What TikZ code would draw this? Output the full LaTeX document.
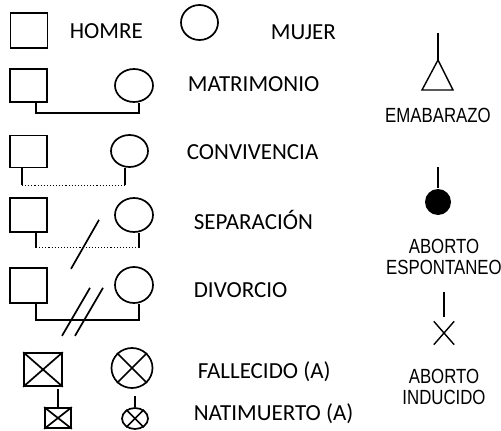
\documentclass[tikz,border=0pt]{standalone}
\usepackage{fontspec}
\setmainfont{Carlito}
\newfontfamily\narrowsans[FakeStretch=0.82]{Liberation Sans}
\usetikzlibrary{shapes.geometric,shapes.misc,positioning}

\begin{document}
\begin{tikzpicture}
  [
    x=1pt,y=-1pt,
    line width=1.7pt,
    hombre/.style={  draw,  rectangle,  minimum width=37,  minimum height=34,  inner sep=0pt},
    mujer/.style={  draw,  ellipse,  minimum width=37,  minimum height=34,  inner sep=0pt},
    label/.style={  anchor=west,  inner sep=0pt,  font=\fontsize{23}{26}\selectfont},
    rlabel/.style={  align=center,  inner sep=0pt,  font=\narrowsans\fontsize{20.5}{21}\selectfont},
    stem/.style={  line width=1.4pt},
  ]
  \useasboundingbox (0,0) rectangle (501,431);

  % simbolos basicos
  \node[hombre,minimum height=35] (h0) at (29,30.5) {};
  \node[label] (thombre) at (69,31) {HOMRE};
  \node[mujer,minimum height=35] (m0) at (199.5,22.5) {};
  \node[label] (tmujer) at (270,32) {MUJER};

  % matrimonio
  \node[hombre,minimum height=33] (h1) at (28.5,85.5) {};
  \node[mujer,minimum width=38,minimum height=33] (m1) at (134,85.5) {};
  \node[label] (tmat) at (187,84) {MATRIMONIO};
  \draw ([xshift=7.5]h1.south) -- ++(0,10) -| ([xshift=5]m1.south);

  % convivencia
  \node[hombre,minimum height=32] (h2) at (28.5,151.5) {};
  \node[mujer,minimum height=32] (m2) at (129.5,151) {};
  \node[label] (tconv) at (186,152) {CONVIVENCIA};
  \draw ([xshift=-6.5]h2.south) -- ++(0,17) coordinate (cl);
  \draw ([xshift=-4.5]m2.south) coordinate (cr0) -- (cr0 |- cl) coordinate (cr);
  \draw[dotted,line width=1.1pt] (cl) -- (cr);

  % separacion
  \node[hombre] (h3) at (28.5,215) {};
  \node[mujer,minimum width=38] (m3) at (134,215) {};
  \node[label] (tsep) at (193,220) {SEPARACIÓN};
  \draw ([xshift=7.5]h3.south) -- ++(0,15) coordinate (sl);
  \draw ([xshift=5]m3.south) coordinate (sr0) -- (sr0 |- sl) coordinate (sr);
  \draw[dotted,line width=1.1pt] (sl) -- (sr);
  \path (sl) -- (sr) coordinate[midway] (sm);
  \draw (sm) ++(-16.5,21) -- ++(28,-49);

  % divorcio
  \node[hombre,minimum height=35] (h4) at (28.5,285.5) {};
  \node[mujer,minimum width=38,minimum height=36] (m4) at (134,285) {};
  \node[label] (tdiv) at (193,290) {DIVORCIO};
  \draw ([xshift=7.5]h4.south) -- ++(0,16) coordinate (dl) -| ([xshift=5]m4.south);
  \path (dl) -- ++(103,0) coordinate[midway] (dm);
  \draw (dm) ++(-25.5,16) -- ++(28,-48);
  \draw (dm) ++(-12.5,16) -- ++(28,-48);

  % fallecido y natimuerto
  \node[hombre,minimum width=38,minimum height=33] (hf) at (43,369.5) {};
  \draw (hf.north west) -- (hf.south east) (hf.south west) -- (hf.north east);
  \node[mujer,minimum width=41,minimum height=40] (mf) at (132,368) {};
  \draw (mf.45) -- (mf.225) (mf.135) -- (mf.315);
  \node[label] (tfal) at (197,372) {FALLECIDO (A)};

  \node[hombre,minimum width=26,minimum height=20] (hn) at (58,418) {};
  \draw (hn.north west) -- (hn.south east) (hn.south west) -- (hn.north east);
  \draw[stem] (hn.north) -- ++(0,-18);
  \node[mujer,minimum width=26,minimum height=21] (mn) at (135,418.5) {};
  \draw (mn.45) -- (mn.225) (mn.135) -- (mn.315);
  \draw[stem] (mn.north) -- ++(0,-11);
  \node[label] (tnat) at (193,414) {NATIMUERTO (A)};

  % embarazo y abortos
  \coordinate (emb) at (438,60);
  \draw[stem] (emb) -- ++(0,-27);
  \draw[stem] (emb) -- ++(-16,30) -- ++(31,0) -- cycle;
  \node[rlabel] (temb) at (438,115) {EMABARAZO};

  \node[circle,fill,minimum size=26,inner sep=0pt] (esp) at (438,202) {};
  \draw[stem] (esp.north) -- ++(0,-21);
  \node[rlabel] (tesp) at (444,257) {ABORTO\\ESPONTANEO};

  \node[cross out,draw,stem,minimum width=19,minimum height=22,inner sep=0pt] (ind) at (444,333) {};
  \draw[stem] ([yshift=4]ind.north) -- ++(0,-25);
  \node[rlabel] (tind) at (444,387) {ABORTO\\INDUCIDO};
\end{tikzpicture}
\end{document}
